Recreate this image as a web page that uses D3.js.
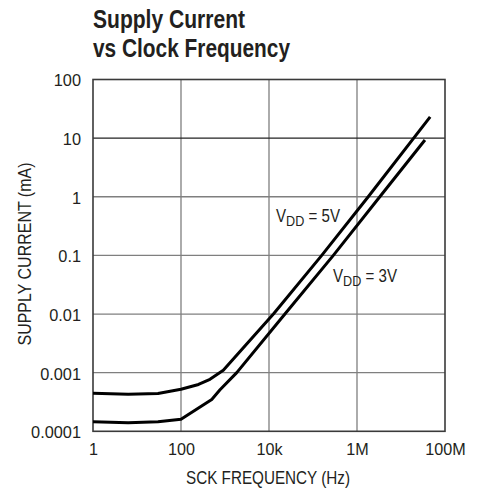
<!DOCTYPE html>
<html>
<head>
<meta charset="utf-8">
<script src="https://cdn.jsdelivr.net/npm/d3@7"></script>
<style>
  body { margin: 0; background: #fff; }
  svg { display: block; font-family: "Liberation Sans", Arial, sans-serif; }
</style>
</head>
<body>
<div id="chart"></div>
<script>
// supply current curves (Hz, mA)
const freq5V = [1, 6.3, 30, 100, 250, 455, 915, 12600, 158000, 1.8e6, 4.6e7];
const curr5V = [4.45e-4, 4.3e-4, 4.4e-4, 5.2e-4, 6.3e-4, 7.7e-4, 1.1e-3, 0.01, 0.1, 1, 23];
const freq3V = [1, 6.3, 30, 100, 250, 500, 770, 1850, 23000, 290000, 3.3e6, 3.5e7];
const curr3V = [1.46e-4, 1.4e-4, 1.45e-4, 1.6e-4, 2.5e-4, 3.5e-4, 5.1e-4, 1e-3, 0.01, 0.1, 1, 9.3];

const xTicks = [1, 100, 1e4, 1e6, 1e8];
const xTickLabels = ['1', '100', '10k', '1M', '100M'];
const yTicks = [1e-4, 1e-3, 0.01, 0.1, 1, 10, 100];
const yTickLabels = ['0.0001', '0.001', '0.01', '0.1', '1', '10', '100'];

const width = 480, height = 491;
const margin = { left: 93, right: 35, top: 79.5, bottom: 59.7 };
const innerW = width - margin.left - margin.right;
const innerH = height - margin.top - margin.bottom;
const ink = '#231f20';

const svg = d3.select('#chart').append('svg')
    .attr('width', width)
    .attr('height', height);

const x = d3.scaleLog().domain([1, 1e8]).range([margin.left, margin.left + innerW]);
const y = d3.scaleLog().domain([1e-4, 100]).range([margin.top + innerH, margin.top]);

// squeeze Arial-like text to look like a condensed face
function condense(sel, factor) {
    sel.each(function () {
        const w = this.getComputedTextLength();
        d3.select(this)
            .attr('textLength', w * factor)
            .attr('lengthAdjust', 'spacingAndGlyphs');
    });
}

// title
svg.append('text')
    .attr('x', 93).attr('y', 28)
    .attr('font-weight', 'bold').attr('font-size', 25).attr('fill', ink)
    .attr('textLength', 152).attr('lengthAdjust', 'spacingAndGlyphs')
    .text('Supply Current');
svg.append('text')
    .attr('x', 93).attr('y', 57)
    .attr('font-weight', 'bold').attr('font-size', 25).attr('fill', ink)
    .attr('textLength', 197).attr('lengthAdjust', 'spacingAndGlyphs')
    .text('vs Clock Frequency');

// grid
svg.append('g')
    .selectAll('line')
    .data(xTicks.slice(1, -1))
    .enter().append('line')
    .attr('x1', d => x(d)).attr('x2', d => x(d))
    .attr('y1', margin.top).attr('y2', margin.top + innerH)
    .attr('stroke', '#7f7f7f').attr('stroke-width', 1.3);

svg.append('g')
    .selectAll('line')
    .data(yTicks.slice(1, -1))
    .enter().append('line')
    .attr('x1', margin.left).attr('x2', margin.left + innerW)
    .attr('y1', d => y(d)).attr('y2', d => y(d))
    .attr('stroke', d => d === 10 ? '#222' : '#7f7f7f')
    .attr('stroke-width', 1.3);

// frame
svg.append('rect')
    .attr('x', margin.left).attr('y', margin.top)
    .attr('width', innerW).attr('height', innerH)
    .attr('fill', 'none')
    .attr('stroke', '#3a3a3a')
    .attr('stroke-width', 1.6);

// axes (labels only)
const xAxis = svg.append('g')
    .attr('transform', `translate(0, ${margin.top + innerH})`)
    .call(d3.axisBottom(x).tickValues(xTicks).tickSize(0).tickPadding(12)
        .tickFormat((d, i) => xTickLabels[i]));
xAxis.select('.domain').remove();
xAxis.attr('font-family', null).attr('font-size', 17);
xAxis.selectAll('text').attr('fill', ink);
condense(xAxis.selectAll('text'), 0.95);

const yAxis = svg.append('g')
    .attr('transform', `translate(${margin.left}, 0)`)
    .call(d3.axisLeft(y).tickValues(yTicks).tickSize(0).tickPadding(12)
        .tickFormat((d, i) => yTickLabels[i]));
yAxis.select('.domain').remove();
yAxis.attr('font-family', null).attr('font-size', 17);
yAxis.selectAll('text').attr('fill', ink).attr('dy', '0.38em');
condense(yAxis.selectAll('text'), 0.96);

// axis titles
svg.append('text')
    .attr('x', 268)
    .attr('y', 484)
    .attr('text-anchor', 'middle')
    .attr('font-size', 18)
    .attr('fill', ink)
    .attr('textLength', 164).attr('lengthAdjust', 'spacingAndGlyphs')
    .text('SCK FREQUENCY (Hz)');

svg.append('text')
    .attr('transform', `translate(31, 254) rotate(-90)`)
    .attr('text-anchor', 'middle')
    .attr('font-size', 18)
    .attr('fill', ink)
    .attr('textLength', 183).attr('lengthAdjust', 'spacingAndGlyphs')
    .text('SUPPLY CURRENT (mA)');

// curves
const line = d3.line()
    .x(d => x(d[0]))
    .y(d => y(d[1]));

const series = [
    d3.zip(freq5V, curr5V),
    d3.zip(freq3V, curr3V)
];

svg.append('g')
    .selectAll('path')
    .data(series)
    .enter().append('path')
    .attr('d', line)
    .attr('fill', 'none')
    .attr('stroke', '#000')
    .attr('stroke-width', 3)
    .attr('stroke-linejoin', 'round');

// curve labels: one text, V with subscript DD, squeezed horizontally
function vddLabel(px, py, volts) {
    const t = svg.append('text')
        .attr('transform', `translate(${px}, ${py}) scale(0.84, 1)`)
        .attr('font-size', 18)
        .attr('fill', ink);
    t.append('tspan').text('V');
    t.append('tspan').attr('font-size', 15).attr('dy', 4.5).text('DD');
    t.append('tspan').attr('dy', -4.5).attr('dx', 5).text('= ' + volts);
}
vddLabel(276, 221.5, '5V');
vddLabel(333, 281.5, '3V');
</script>
</body>
</html>
